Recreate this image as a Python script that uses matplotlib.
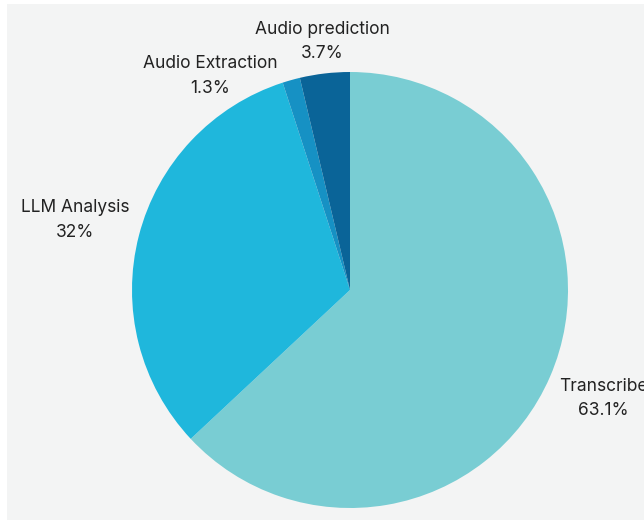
import numpy as np
import matplotlib.pyplot as plt
from matplotlib.patches import Rectangle

labels = ["Transcribe", "LLM Analysis", "Audio Extraction", "Audio prediction"]
values = [63.1, 32.0, 1.3, 3.7]
pct_text = ["63.1%", "32%", "1.3%", "3.7%"]
colors = ["#79cdd3", "#1fb7dc", "#1691c4", "#0a6498"]

# label placement (radius, angle shift in degrees)
lab_r = [1.264, 1.30, 1.172, 1.147]
lab_shift = [0.3, 0.1, 17.6, -0.3]

plt.rcParams['font.family'] = ['Inter', 'DejaVu Sans']

W, H = 644, 520
fig = plt.figure(figsize=(W / 100, H / 100), dpi=100, facecolor="white")
fig.patches.append(Rectangle((7 / W, 0), 1, 1 - 4 / H, transform=fig.transFigure,
                             facecolor="#f3f4f4", edgecolor="none", zorder=-10))

cx, cy, R = 350, 290, 218
ax = fig.add_axes([0, 0, 1, 1])
ax.set_facecolor("none")
wedges, _ = ax.pie(values, colors=colors, startangle=90, counterclock=False,
                   radius=1, center=(0, 0), wedgeprops=dict(linewidth=0))
ax.set_xlim(-cx / R, (W - cx) / R)
ax.set_ylim(-(H - cy) / R, cy / R)
ax.set_aspect("auto")
ax.axis("off")

for w, lab, p, r, s in zip(wedges, labels, pct_text, lab_r, lab_shift):
    ang = np.deg2rad((w.theta1 + w.theta2) / 2 + s)
    ax.text(r * np.cos(ang), r * np.sin(ang), lab + "\n" + p, ha="center", va="center",
            fontsize=12.5, color="#222222", linespacing=1.6)

fig.savefig("out.png", dpi=100)
